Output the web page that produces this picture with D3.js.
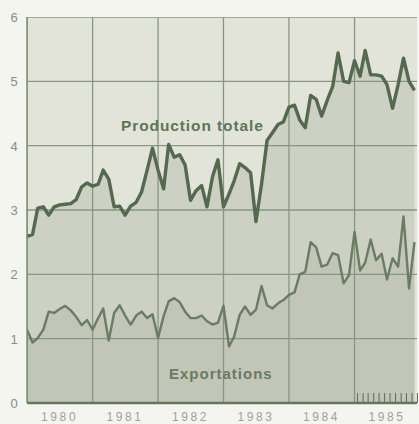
<!DOCTYPE html>
<html>
<head>
<meta charset="utf-8">
<script src="https://cdn.jsdelivr.net/npm/d3@7"></script>
<style>
  body { margin: 0; background: #f5f5f0; }
  text { font-family: "Liberation Sans", Arial, sans-serif; }
</style>
</head>
<body>
<script>
// monthly values, Jan 1980 .. Dec 1985
const production = [
  2.59, 2.62, 3.03, 3.05, 2.92, 3.05, 3.08, 3.09, 3.10, 3.16, 3.36, 3.42,
  3.37, 3.40, 3.62, 3.48, 3.05, 3.06, 2.92, 3.06, 3.12, 3.28, 3.62, 3.96,
  3.62, 3.33, 4.02, 3.82, 3.86, 3.70, 3.15, 3.30, 3.38, 3.05, 3.52, 3.78,
  3.05, 3.25, 3.45, 3.72, 3.66, 3.58, 2.82, 3.40, 4.08, 4.20, 4.33, 4.37,
  4.60, 4.63, 4.40, 4.28, 4.78, 4.72, 4.46, 4.70, 4.92, 5.44, 5.00, 4.98,
  5.32, 5.08, 5.48, 5.10, 5.10, 5.08, 4.95, 4.58, 4.95, 5.36, 5.00, 4.86
]
const exportations = [
  1.14, 0.94, 1.01, 1.14, 1.42, 1.40, 1.46, 1.51, 1.44, 1.34, 1.21, 1.29,
  1.14, 1.32, 1.47, 0.97, 1.40, 1.52, 1.36, 1.22, 1.36, 1.42, 1.32, 1.38,
  1.01, 1.35, 1.58, 1.63, 1.57, 1.42, 1.32, 1.32, 1.36, 1.27, 1.22, 1.25,
  1.51, 0.88, 1.03, 1.37, 1.50, 1.37, 1.45, 1.82, 1.52, 1.47, 1.55, 1.60,
  1.68, 1.72, 2.00, 2.04, 2.50, 2.42, 2.12, 2.15, 2.33, 2.30, 1.86, 1.99,
  2.66, 2.06, 2.18, 2.54, 2.22, 2.32, 1.92, 2.25, 2.12, 2.90, 1.78, 2.50
]
const years = [1980, 1981, 1982, 1983, 1984, 1985]
const yTicks = [0, 1, 2, 3, 4, 5, 6]

const m = { width: 419, height: 424, left: 27, right: 420, top: 17, bottom: 403 }

const months = production.map((d, i) => new Date(1980, i, 1))

const x = d3.scaleTime()
    .domain([new Date(1980, 0, 1), new Date(1986, 0, 1)])
    .range([m.left, m.right])

const y = d3.scaleLinear()
    .domain([0, 6])
    .range([m.bottom, m.top])

const svg = d3.select('body').append('svg')
    .attr('width', m.width)
    .attr('height', m.height)

svg.append('defs').append('clipPath').attr('id', 'plot')
    .append('rect')
    .attr('x', m.left).attr('y', m.top)
    .attr('width', 417 - m.left).attr('height', m.bottom - m.top)

const g = svg.append('g').attr('clip-path', 'url(#plot)')

// background
g.append('rect')
    .attr('x', m.left).attr('y', m.top)
    .attr('width', 417 - m.left).attr('height', m.bottom - m.top)
    .attr('fill', '#e2e4da')

const area = vals => d3.area()
    .x((d, i) => x(months[i]))
    .y0(y(0))
    .y1(d => y(d))(vals)

g.append('path').attr('d', area(production)).attr('fill', '#cdd1c3')
g.append('path').attr('d', area(exportations)).attr('fill', '#c1c6b6')

// grid
g.selectAll('.hgrid')
    .data(yTicks)
    .enter()
    .append('line')
    .attr('x1', m.left).attr('x2', 417)
    .attr('y1', d => y(d)).attr('y2', d => y(d))
    .attr('stroke', '#869781')
    .attr('stroke-width', 1.3)

g.selectAll('.vgrid')
    .data(years)
    .enter()
    .append('line')
    .attr('x1', d => x(new Date(d, 0, 1))).attr('x2', d => x(new Date(d, 0, 1)))
    .attr('y1', m.top).attr('y2', m.bottom)
    .attr('stroke', '#869781')
    .attr('stroke-width', 1.3)

const line = d3.line()
    .x((d, i) => x(months[i]))
    .y(d => y(d))

g.append('path')
    .attr('d', line(exportations))
    .attr('fill', 'none')
    .attr('stroke', '#6b7b64')
    .attr('stroke-width', 2.4)
    .attr('stroke-linejoin', 'round')

g.append('path')
    .attr('d', line(production))
    .attr('fill', 'none')
    .attr('stroke', '#55694e')
    .attr('stroke-width', 3.4)
    .attr('stroke-linejoin', 'round')

// monthly ticks for 1985
svg.selectAll('.mtick')
    .data(months.slice(60))
    .enter()
    .append('line')
    .attr('x1', d => x(d) + 3).attr('x2', d => x(d) + 3)
    .attr('y1', m.bottom - 10).attr('y2', m.bottom)
    .attr('stroke', '#5d6b58')
    .attr('stroke-width', 1)

// axis baseline and frame
svg.append('line')
    .attr('x1', m.left).attr('x2', 417)
    .attr('y1', m.bottom).attr('y2', m.bottom)
    .attr('stroke', '#66755f')
    .attr('stroke-width', 2.5)
svg.append('line')
    .attr('x1', m.left).attr('x2', m.left)
    .attr('y1', m.top).attr('y2', m.bottom)
    .attr('stroke', '#7a8c74')
    .attr('stroke-width', 1.5)

svg.selectAll('.ylab')
    .data(yTicks)
    .enter()
    .append('text')
    .attr('x', 14)
    .attr('y', d => y(d) + 5)
    .attr('text-anchor', 'middle')
    .attr('font-size', 13)
    .attr('fill', '#8c8c86')
    .text(d => d)

svg.selectAll('.xlab')
    .data(years)
    .enter()
    .append('text')
    .attr('x', d => x(new Date(d, 6, 1)))
    .attr('y', 421)
    .attr('text-anchor', 'middle')
    .attr('font-size', 12)
    .attr('fill', '#a0a09a')
    .attr('letter-spacing', 2.6)
    .text(d => d)

svg.append('text')
    .attr('x', 121).attr('y', 131)
    .attr('font-size', 15.5)
    .attr('font-weight', 'bold')
    .attr('letter-spacing', 0.9)
    .attr('fill', '#5f7557')
    .text('Production totale')

svg.append('text')
    .attr('x', 169).attr('y', 379)
    .attr('font-size', 15)
    .attr('font-weight', 'bold')
    .attr('letter-spacing', 1)
    .attr('fill', '#6b7964')
    .text('Exportations')
</script>
</body>
</html>
